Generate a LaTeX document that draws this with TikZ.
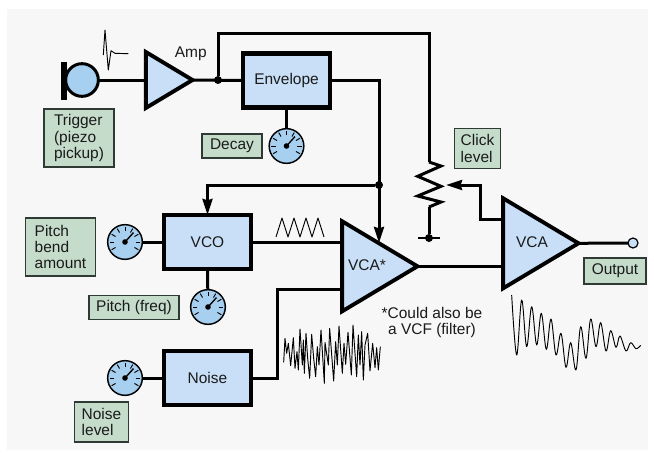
\documentclass[tikz,border=0pt]{standalone}
\usepackage{fontspec}
\setmainfont{Liberation Sans}
\usepackage{xcolor}
\usetikzlibrary{shapes.geometric, arrows.meta}
\definecolor{SynthPaper}{HTML}{F7F7F7}
\definecolor{SynthBlock}{HTML}{C8DFF7}
\definecolor{SynthDial}{HTML}{A6CFF0}
\definecolor{SynthNote}{HTML}{C5DCCB}
\definecolor{SynthNoteLine}{HTML}{2E3A33}
\definecolor{SynthInk}{HTML}{1A1A1A}
\tikzset{
    % Box styles
    block/.style={
        rectangle,
        draw=black,
        fill=SynthBlock,
        line width=3.1pt,
        outer sep=0pt,
        minimum width=65.25pt,
        minimum height=40.5pt,
        text=SynthInk,
        font=\fontsize{11.6}{12.1}\selectfont
    },
    amplifier/.style={
        isosceles triangle,
        isosceles triangle stretches,
        shape border rotate=0,
        draw=black,
        fill=SynthBlock,
        line width=2.9pt,
        inner sep=0pt,
        outer sep=0pt,
        anchor=apex
    },
    note/.style={
        rectangle,
        draw=SynthNoteLine,
        fill=SynthNote,
        line width=0.9pt,
        inner sep=0pt,
        outer sep=0pt,
        align=left,
        text=SynthInk,
        font=\fontsize{11.6}{12.1}\selectfont
    },
    caption/.style={
        inner sep=0pt,
        align=center,
        text=SynthInk,
        font=\fontsize{11.6}{12.1}\selectfont
    },
    knob/.style={
        circle,
        draw=black,
        fill=SynthDial,
        line width=1.1pt,
        inner sep=0pt,
        outer sep=0pt,
        minimum size=26pt
    },
    joint/.style={
        circle,
        fill=black,
        inner sep=0pt,
        outer sep=0pt,
        minimum size=6pt
    },
    % Line styles
    wire/.style={
        line width=2.25pt,
        draw=black
    },
    arrow/.style={
        -{Stealth[length=12pt, width=7.5pt, inset=1pt]},
        line width=2.25pt,
        draw=black
    },
    wave/.style={
        line width=0.7pt,
        line join=round,
        draw=black
    }
}
\begin{document}
\begin{tikzpicture}[x=0.75pt, y=-0.75pt]
    \useasboundingbox (0,0) rectangle (654,457);
    \fill[SynthPaper] (7,9) rectangle (648,450);

    % Trigger and amp
    \node[draw=black, fill=black, rectangle, inner sep=0pt, outer sep=0pt, minimum width=3.75pt, minimum height=27.75pt] (micbar) at (63.5,80.5) {};
    \node[knob, fill=SynthDial, line width=2.25pt, minimum size=24.5pt] (mic) at (82,80) {};
    \node[amplifier, minimum width=42pt, minimum height=35pt] (amp) at (192.5,80) {};
    \node[caption] (amptext) at (190.7,54) {Amp};
    \node[joint] (ampdot) at (218,80) {};
    \node[note, minimum width=52.5pt, minimum height=43.5pt] (trigger) at (79,138) {Trigger\\(piezo\\pickup)};

    % Envelope
    \node[block] (envelope) at (286.5,80.5) {Envelope};
    \node[knob] (decayknob) at (286.5,146) {};
    \node[note, minimum width=45pt, minimum height=18pt] (decay) at (232,146) {Decay};

    % Oscillator and noise
    \node[block] (vco) at (207.5,242) {VCO};
    \node[block] (noise) at (207.5,378) {Noise};
    \node[knob] (pitchknob) at (208,307) {};
    \node[knob] (bendknob) at (125,242) {};
    \node[knob] (noiseknob) at (125,378) {};
    \node[note, minimum width=52pt, minimum height=43.5pt] (bend) at (60.5,247) {Pitch\\bend\\amount};
    \node[note, minimum width=67.5pt, minimum height=17.5pt] (pitch) at (134,307.5) {Pitch (freq)};
    \node[note, minimum width=40pt, minimum height=30pt] (noisenote) at (101.5,422) {Noise\\level};

    % Amplifiers
    \node[amplifier, minimum width=67.5pt, minimum height=56.5pt] (vcafirst) at (417.5,266.3) {};
    \node[caption] (vcafirsttext) at (367,265) {VCA*};
    \node[amplifier, minimum width=67.5pt, minimum height=56.5pt] (vcasecond) at (578.5,243.3) {};
    \node[caption] (vcasecondtext) at (532,242.5) {VCA};
    \node[caption] (filternote) at (432,322.5) {*Could also be\\a VCF (filter)};
    \node[note, minimum width=46.5pt, minimum height=19.5pt] (output) at (615,271) {Output};
    \node[note, minimum width=35pt, minimum height=30.5pt] (click) at (477.5,148.5) {Click\\level};
    \node[circle, draw=black, fill=SynthBlock, line width=0.9pt, inner sep=0pt, outer sep=0pt, minimum size=7.5pt] (jack) at (633,243) {};

    % Joints and bends
    \node[joint] (envdot) at (379,185) {};
    \node[joint] (gnd) at (429,238) {};
    \coordinate (clickturn) at (429,33);
    \coordinate (restop) at (429,162);
    \coordinate (resbot) at (429,207);
    \coordinate (gndleft) at (418,238);
    \coordinate (gndright) at (440,238);
    \coordinate (vcainput) at (379,243);
    \coordinate (wipin) at (502,219);
    \coordinate (wipbend) at (480,185);
    \coordinate (wiper) at (446,185);
    \coordinate (noisebend) at (277,289);

    % Connectors
    \draw[wire] (mic) -- (amp.lower side);
    \draw[wire] (amp.apex) -- (envelope.west);
    \draw[wire] (ampdot) |- (clickturn) -- (restop);
    \draw[arrow] (envelope.east) -| (vcainput);
    \draw[arrow] (envdot) -| (vco.north);
    \draw[wire] (envelope.south) -- (decayknob);
    \draw[wire] (bendknob) -- (vco.west);
    \draw[wire] (vco.south) -- (pitchknob);
    \draw[wire] (noiseknob) -- (noise.west);
    \draw[wire] (vco.east) -- (vco.east -| vcafirst.lower side);
    \draw[wire] (noise.east) -| (noisebend) -- (noisebend -| vcafirst.lower side);
    \draw[wire] (vcafirst.apex) -- (vcafirst.apex -| vcasecond.lower side);
    \draw[wire] (vcasecond.apex) -- (jack);
    \draw[arrow] (wipin) -| (wipbend) -- (wiper);
    \draw[wire] (resbot) -- (gnd);
    \draw[line width=1.1pt] (gndleft) -- (gndright);

    % Click level pot
    \draw[wire, line join=miter] (restop) -- ++(12,4) -- ++(-23.3,10.3) -- ++(23.3,10) -- ++(-23.3,9.7) -- ++(23.3,6) -- (resbot);

    % Dial faces
    \foreach \k in {decayknob, pitchknob, bendknob, noiseknob} {
        \foreach \a in {-30,0,...,210} {
            \draw[line width=0.7pt] (\k.center) ++(\a:8.2pt) -- ++(\a:3.4pt);
        }
        \draw[line width=1pt] (\k.center) -- ++(48:9.5pt);
        \fill (\k.center) circle (2.1pt);
    }

    % Waveforms
    \draw[wave] (103.3,55) -- (105,30) -- (108.3,70) -- (111,50.7) -- (115,53.3) -- (128.3,53.7);
    \draw[wave] (276,237) \foreach \i in {0,...,3} { -- ({282+12*\i},218) -- ({288+12*\i},237) };
    \begin{scope}[shift={(275,315)}, x=0.25pt, y=-0.25pt]
        \draw[wave] plot coordinates {(26,142) (30,70) (35,115) (40,85) (47,152) (55,68) (60,160) (66,110) (70,165) (75,42) (82,150) (85,75) (88,175) (93,55) (98,130) (104,190) (110,58) (116,130) (122,185) (127,95) (132,150) (138,45) (148,205) (150,82) (160,150) (164,40) (176,198) (182,80) (187,150) (192,33) (202,175) (207,85) (212,148) (219,52) (229,180) (234,30) (245,185) (250,60) (255,150) (260,50) (265,195) (270,90) (278,55) (285,168) (293,85) (300,158) (305,98) (310,165) (316,95)};
    \end{scope}
    \begin{scope}[shift={(500,290)}, x=0.25pt, y=-0.25pt]
        \draw[wave] plot[smooth, tension=0.6] coordinates {(35,15) (50,195) (65,30) (80,170) (95,50) (110,165) (124,70) (139,178) (153,87) (168,195) (183,130) (198,232) (212,158) (228,240) (242,110) (258,205) (272,87) (288,170) (302,98) (318,183) (332,122) (348,172) (360,138) (378,183) (392,158) (408,176) (422,166)};
    \end{scope}
\end{tikzpicture}
\end{document}
